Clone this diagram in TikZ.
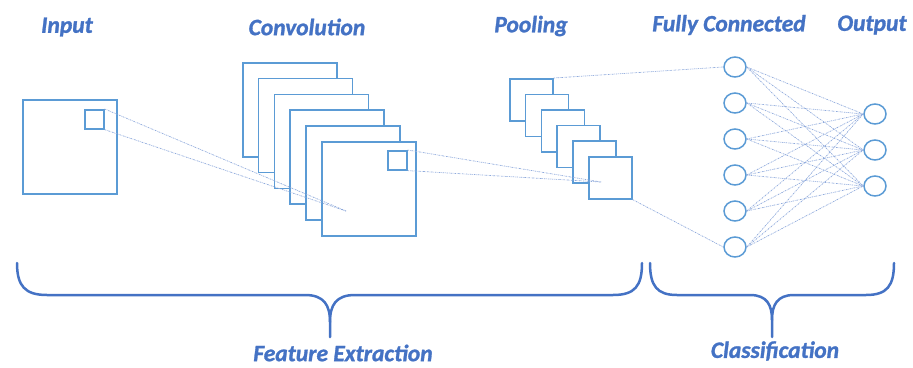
\documentclass[tikz,border=0pt]{standalone}
\usepackage{fontspec}
\setmainfont{Carlito}
\newfontfamily\capfont{Carlito Bold Italic}[FakeBold=1.2]
\usetikzlibrary{shapes.geometric}
\definecolor{boxblue}{HTML}{5B9BD5}
\definecolor{linkblue}{HTML}{8FAADC}
\definecolor{titleblue}{HTML}{4472C4}
\tikzset{
  map/.style={draw=boxblue, line width=1.6pt, fill=white, rectangle, inner sep=0pt, anchor=north west},
  bigmap/.style={map, minimum width=94pt, minimum height=94pt},
  poolmap/.style={map, minimum width=43pt, minimum height=42pt},
  window/.style={map, minimum width=19pt, minimum height=19pt},
  neuron/.style={draw=boxblue, line width=1.5pt, ellipse, minimum width=22pt, minimum height=20pt, inner sep=0pt},
  link/.style={draw=linkblue, line width=0.7pt, dash pattern=on 1.6pt off 0.9pt on 0.5pt off 0.9pt},
  caption/.style={text=titleblue, font=\capfont\fontsize{23.5}{25}\selectfont, inner sep=0pt},
  brace/.style={draw=titleblue, line width=2.5pt, line cap=round, line join=round}
}
\begin{document}
\begin{tikzpicture}[x=1pt, y=-1pt]
\useasboundingbox (0,0) rectangle (913,367);

% titles
\node[caption] (tin)  at (67,27)  {Input};
\node[caption] (tconv) at (307,27) {Convolution};
\node[caption] (tpool) at (531,26) {Pooling};
\node[caption] (tfc)  at (729,25) {Fully Connected};
\node[caption] (tout) at (872,25) {Output};

% input image with its receptive window
\node[bigmap] (img) at (22,99) {};
\node[window] (imgwin) at (84,109) {};

% stack of convolution feature maps
\foreach \i in {0,...,5}
  \node[bigmap] (conv\i) at ({242+15.8*\i},{62+15.8*\i}) {};
\node[window] (convwin) at (387,150) {};

% stack of pooled maps
\foreach \i in {0,...,5}
  \node[poolmap] (pool\i) at ({509+15.8*\i},{78+15.6*\i}) {};

% projections of the windows
\coordinate (cfocus) at (346,211);
\coordinate (pfocus) at (601,182);
\draw[link] (imgwin.north east) -- (cfocus);
\draw[link] (imgwin.south east) -- (cfocus);
\draw[link] (convwin.north east) -- (pfocus);
\draw[link] (convwin.south east) -- (pfocus);

% fully connected layer and output layer
\foreach \j/\y in {1/67,2/103,3/139,4/175,5/211,6/247}
  \node[neuron] (fc\j) at (735,\y) {};
\foreach \k/\y in {1/114,2/150,3/186}
  \node[neuron] (out\k) at (875,\y) {};

\draw[link] (pool0.north east) -- (fc1.west);
\draw[link] (pool5.south east) -- (fc6.west);
\foreach \j in {1,...,6}
  \foreach \k in {1,2,3}
    \draw[link] (fc\j.east) -- (out\k.west);

% braces
\draw[brace] (17,263) .. controls (17,286) and (25,295) .. (47,295)
  -- (305,295) .. controls (324,295) and (330,305) .. (330,322) -- (330,337);
\draw[brace] (330,322) .. controls (330,305) and (336,295) .. (355,295)
  -- (613,295) .. controls (635,295) and (642,286) .. (642,263);
\draw[brace] (650,263) .. controls (650,286) and (657,295) .. (677,295)
  -- (750,295) .. controls (767,295) and (772,305) .. (772,320) -- (772,337);
\draw[brace] (772,320) .. controls (772,305) and (777,295) .. (794,295)
  -- (866,295) .. controls (887,295) and (894,286) .. (894,263);

\node[caption] (tfeat) at (343,353) {Feature Extraction};
\node[caption] (tcls)  at (775,351) {Classification};
\end{tikzpicture}
\end{document}
